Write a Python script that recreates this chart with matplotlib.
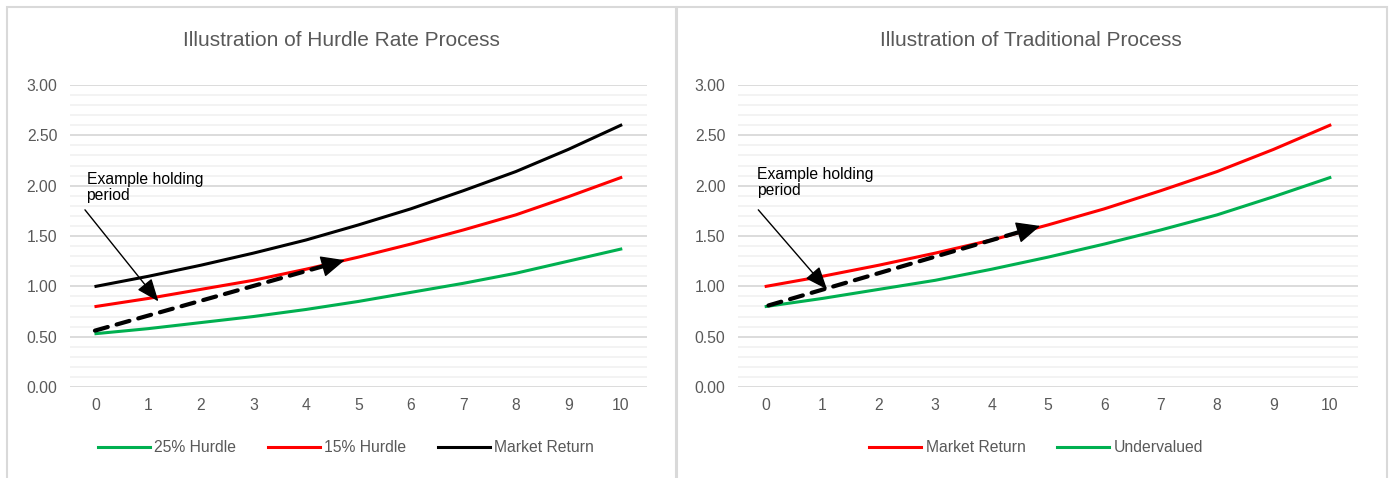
import numpy as np
import matplotlib
matplotlib.use("Agg")
import matplotlib.pyplot as plt
from matplotlib.patches import Rectangle
from matplotlib.ticker import MultipleLocator, FormatStrFormatter

plt.rcParams['font.family'] = ['Liberation Sans', 'DejaVu Sans']

years = list(range(11))
market = [1.00, 1.10, 1.21, 1.33, 1.46, 1.61, 1.77, 1.95, 2.14, 2.36, 2.60]
hurdle_15 = [0.80, 0.88, 0.97, 1.06, 1.17, 1.29, 1.42, 1.56, 1.71, 1.89, 2.08]
hurdle_25 = [0.53, 0.58, 0.64, 0.70, 0.77, 0.85, 0.94, 1.03, 1.13, 1.25, 1.37]
undervalued = [0.80, 0.88, 0.97, 1.06, 1.17, 1.29, 1.42, 1.56, 1.71, 1.89, 2.08]

GREEN = '#00B050'
RED = '#FF0000'
GRAY = '#595959'

W, H = 1392, 478
fig = plt.figure(figsize=(W / 100, H / 100), dpi=100)

# panel frames
for x0, x1 in [(7, 676), (677, 1387)]:
    fig.add_artist(Rectangle((x0 / W, -0.05), (x1 - x0) / W, 1.05 - 7 / H,
                             transform=fig.transFigure, fill=False,
                             edgecolor='#d9d9d9', lw=1.5))


def make_axes(px0, px1, title, title_x):
    ax = fig.add_axes([px0 / W, 1 - 387 / H, (px1 - px0) / W, 302 / H])
    ax.set_xlim(-0.5, 10.5)
    ax.set_ylim(0, 3)
    ax.yaxis.set_major_locator(MultipleLocator(0.5))
    ax.yaxis.set_minor_locator(MultipleLocator(0.1))
    ax.yaxis.set_major_formatter(FormatStrFormatter('%.2f'))
    ax.set_xticks(years)
    ax.grid(axis='y', which='minor', color='#f2f2f2', lw=1.3)
    ax.grid(axis='y', which='major', color='#d9d9d9', lw=1.3)
    ax.set_axisbelow(True)
    for s in ax.spines.values():
        s.set_visible(False)
    ax.tick_params(axis='both', which='both', length=0, colors=GRAY, labelsize=11.3)
    ax.tick_params(axis='y', pad=9)
    ax.tick_params(axis='x', pad=8)
    fig.text(title_x / W, 1 - 40 / H, title, ha='center', va='center',
             fontsize=15, color=GRAY)
    return ax


def holding_arrows(ax, text_xy, thin_start, thin_end, dash_start, dash_end):
    ax.text(text_xy[0], text_xy[1], 'Example holding\nperiod', fontsize=11.3,
            color='black', ha='left', va='top', linespacing=1.1)
    ax.annotate('', xy=thin_end, xytext=thin_start,
                arrowprops=dict(arrowstyle='-|>,head_length=0.7,head_width=0.28',
                                mutation_scale=20, lw=1, color='black',
                                shrinkA=0, shrinkB=0))
    # dashed shaft, then a solid head on the last stretch
    ax.annotate('', xy=dash_end, xytext=dash_start,
                arrowprops=dict(arrowstyle='-', lw=3, color='black',
                                linestyle=(0, (3.2, 2.2)),
                                shrinkA=0, shrinkB=12))
    near = (dash_end[0] - 0.05 * (dash_end[0] - dash_start[0]),
            dash_end[1] - 0.05 * (dash_end[1] - dash_start[1]))
    ax.annotate('', xy=dash_end, xytext=near,
                arrowprops=dict(arrowstyle='-|>,head_length=0.75,head_width=0.34',
                                mutation_scale=20, lw=1, color='black',
                                shrinkA=0, shrinkB=0))


# hurdle rate process
ax1 = make_axes(69.75, 647, 'Illustration of Hurdle Rate Process', 341)
l1, = ax1.plot(years, hurdle_25, color=GREEN, lw=2.2, label='25% Hurdle')
l2, = ax1.plot(years, hurdle_15, color=RED, lw=2.2, label='15% Hurdle')
l3, = ax1.plot(years, market, color='black', lw=2.2, label='Market Return')
holding_arrows(ax1, (-0.18, 2.14), (-0.21, 1.76), (1.19, 0.85),
               (-0.02, 0.56), (4.74, 1.26))
fig.legend(handles=[l1, l2, l3], loc='center', bbox_to_anchor=(346 / W, 1 - 448 / H),
           ncol=3, frameon=False, fontsize=11.3, handlelength=3.3,
           columnspacing=2.0, handletextpad=0.3, labelcolor=GRAY)

# traditional process
ax2 = make_axes(738, 1358, 'Illustration of Traditional Process', 1031)
r1, = ax2.plot(years, market, color=RED, lw=2.2, label='Market Return')
r2, = ax2.plot(years, undervalued, color=GREEN, lw=2.2, label='Undervalued')
holding_arrows(ax2, (-0.17, 2.19), (-0.14, 1.76), (1.08, 0.97),
               (0.04, 0.81), (4.86, 1.60))
fig.legend(handles=[r1, r2], loc='center', bbox_to_anchor=(1036 / W, 1 - 448 / H),
           ncol=2, frameon=False, fontsize=11.3, handlelength=3.3,
           columnspacing=2.0, handletextpad=0.3, labelcolor=GRAY)

fig.savefig('out.png', dpi=100)
